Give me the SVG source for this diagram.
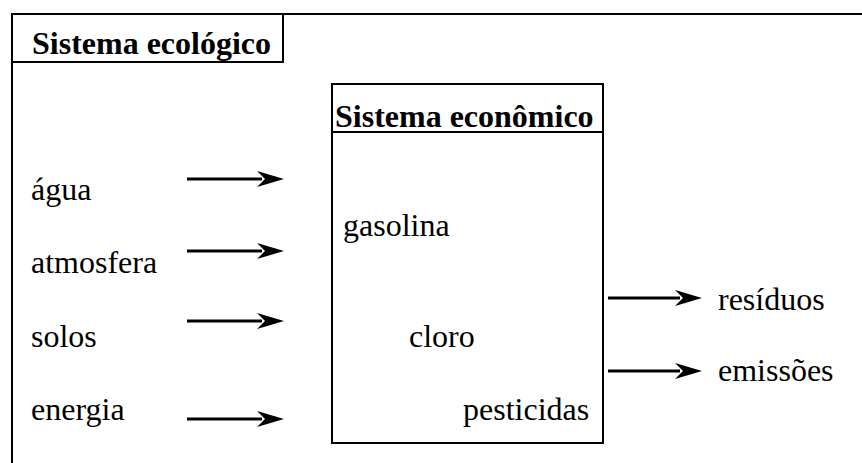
<svg xmlns="http://www.w3.org/2000/svg" width="862" height="463" viewBox="0 0 862 463">
<style>
text.t{font-family:'Liberation Serif','Times New Roman',serif !important;font-size:32px;fill:#000}
text.b{font-weight:bold}
.box{fill:none;stroke:#000;stroke-width:2}
.c{stroke:#000;stroke-width:3;fill:none}
</style>
<rect width="862" height="463" fill="#fff"/>
<g id="eco">
<rect class="box" x="12" y="14" width="860" height="460"/>
<path class="box" d="M12,62 H283 V14"/>
<text class="t b" x="32" y="54" style="font-family:'Liberation Serif',serif">Sistema ecológico</text>
</g>
<g id="econ">
<rect class="box" x="332" y="84" width="271" height="359"/>
<line class="box" x1="332" y1="132" x2="603" y2="132"/>
<text class="t b" x="335" y="127" style="font-family:'Liberation Serif',serif">Sistema econômico</text>
<text class="t" x="343" y="236" style="font-family:'Liberation Serif',serif">gasolina</text>
<text class="t" x="409" y="347" style="font-family:'Liberation Serif',serif">cloro</text>
<text class="t" x="463" y="420" style="font-family:'Liberation Serif',serif">pesticidas</text>
</g>
<g id="inputs">
<text class="t" x="31" y="200" style="font-family:'Liberation Serif',serif">água</text>
<text class="t" x="31" y="273" style="font-family:'Liberation Serif',serif">atmosfera</text>
<text class="t" x="31" y="347" style="font-family:'Liberation Serif',serif">solos</text>
<text class="t" x="31" y="420" style="font-family:'Liberation Serif',serif">energia</text>
</g>
<g id="outputs">
<text class="t" x="718" y="310" style="font-family:'Liberation Serif',serif">resíduos</text>
<text class="t" x="718" y="381" style="font-family:'Liberation Serif',serif">emissões</text>
</g>
<g id="connectors">
<line class="c" x1="187" y1="179" x2="262" y2="179"/>
<path d="M257,171 L284,179 L257,187 L265,179 Z"/>
<line class="c" x1="187" y1="251" x2="262" y2="251"/>
<path d="M257,243 L284,251 L257,259 L265,251 Z"/>
<line class="c" x1="187" y1="321" x2="262" y2="321"/>
<path d="M257,313 L284,321 L257,329 L265,321 Z"/>
<line class="c" x1="187" y1="419" x2="262" y2="419"/>
<path d="M257,411 L284,419 L257,427 L265,419 Z"/>
<line class="c" x1="608" y1="298" x2="680" y2="298"/>
<path d="M675,290 L702,298 L675,306 L683,298 Z"/>
<line class="c" x1="608" y1="371" x2="680" y2="371"/>
<path d="M675,363 L702,371 L675,379 L683,371 Z"/>
</g>
</svg>
